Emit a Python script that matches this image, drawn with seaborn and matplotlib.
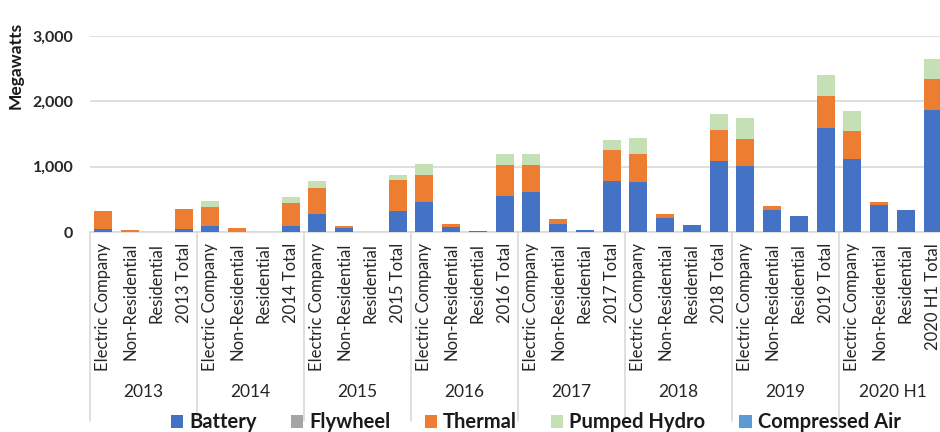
import numpy as np
import pandas as pd
import matplotlib
matplotlib.use("Agg")
import matplotlib.pyplot as plt
from matplotlib.patches import Patch
import seaborn as sns

# --- DATA (megawatts) ---
years = ['2013', '2014', '2015', '2016', '2017', '2018', '2019', '2020 H1']
segments = ['Electric Company', 'Non-Residential', 'Residential', 'Total']

battery = [50, 0, 0, 50,
           85, 0, 0, 90,
           270, 55, 0, 320,
           460, 80, 10, 550,
           605, 130, 35, 775,
           765, 220, 110, 1080,
           1005, 335, 245, 1595,
           1115, 410, 335, 1870]
flywheel = [0] * 32
thermal = [270, 30, 0, 295,
           300, 60, 0, 360,
           410, 30, 0, 470,
           410, 45, 0, 470,
           415, 70, 0, 475,
           425, 50, 0, 485,
           425, 70, 0, 485,
           430, 50, 0, 475]
pumped_hydro = [0, 0, 0, 0,
                90, 0, 0, 90,
                105, 0, 0, 90,
                170, 0, 0, 170,
                170, 0, 0, 160,
                245, 0, 0, 245,
                310, 0, 0, 320,
                310, 0, 0, 305]
compressed_air = [0] * 32

tech_names = ['Battery', 'Flywheel', 'Thermal', 'Pumped Hydro', 'Compressed Air']
tech_colors = ['#4472C4', '#A5A5A5', '#ED7D31', '#C5E0B4', '#5B9BD5']

# build tidy table
slots, labels = [], []
for y in years:
    for s in segments:
        slots.append(f'{y}|{s}')
        labels.append(f'{y} Total' if s == 'Total' else s)

df = pd.DataFrame({'slot': slots,
                   'Battery': battery,
                   'Flywheel': flywheel,
                   'Thermal': thermal,
                   'Pumped Hydro': pumped_hydro,
                   'Compressed Air': compressed_air})
cum = df[tech_names].cumsum(axis=1)

sns.set_style('white')
plt.rcParams['font.family'] = ['Lato', 'DejaVu Sans']

fig = plt.figure(figsize=(9.4, 4.32), dpi=100)
# axes runs off the right edge, like the cropped original
ax = fig.add_axes([90 / 940, 200 / 432, 856 / 940, 196 / 432])

# stacked bars: draw cumulative totals from the top layer down
for name, color in reversed(list(zip(tech_names, tech_colors))):
    sns.barplot(x=df['slot'], y=cum[name], order=slots, color=color,
                width=0.68, saturation=1, linewidth=0, ax=ax, zorder=3)

ax.set_ylim(0, 3000)
ax.set_xlim(-0.5, len(slots) - 0.5)
ax.set_yticks([0, 1000, 2000, 3000])
ax.set_yticklabels(['0', '1,000', '2,000', '3,000'], fontsize=11.5,
                   fontweight='bold', color='#262626')
ax.yaxis.grid(True, color='#D9D9D9', linewidth=1.2, zorder=0)
ax.set_xticks(range(len(slots)))
ax.set_xticklabels(labels, rotation=90, fontsize=12, color='#262626',
                   va='top', ha='center')
ax.tick_params(axis='x', length=0, pad=8)
ax.tick_params(axis='y', length=0, pad=12)
ax.set_xlabel('')
ax.set_ylabel('Megawatts', fontsize=12.5, fontweight='bold', color='#1a1a1a')
ax.yaxis.set_label_coords(-0.077, 0.85)
sns.despine(ax=ax, left=True, top=True, right=True)
ax.spines['bottom'].set_color('#D9D9D9')
ax.spines['bottom'].set_linewidth(1.2)

# year groups under the category labels
trans = matplotlib.transforms.blended_transform_factory(ax.transData, ax.transAxes)
for i, y in enumerate(years):
    left = i * 4 - 0.5
    ax.plot([left, left], [0, -0.965], transform=trans, color='#D9D9D9',
            linewidth=1.2, clip_on=False)
    ax.text(left + 2, -0.815, y, transform=trans, ha='center', va='center',
            fontsize=12.5, color='#262626')

handles = [Patch(facecolor=c, edgecolor='none') for c in tech_colors]
fig.legend(handles, tech_names, loc='center', bbox_to_anchor=(0.570, 0.022),
           ncol=5, frameon=False, handlelength=0.6, handleheight=0.6,
           columnspacing=1.7, handletextpad=0.3, borderpad=0,
           prop={'size': 14.5, 'weight': 'bold'}, labelcolor='#1a1a1a')

fig.savefig('out.png', dpi=100)
